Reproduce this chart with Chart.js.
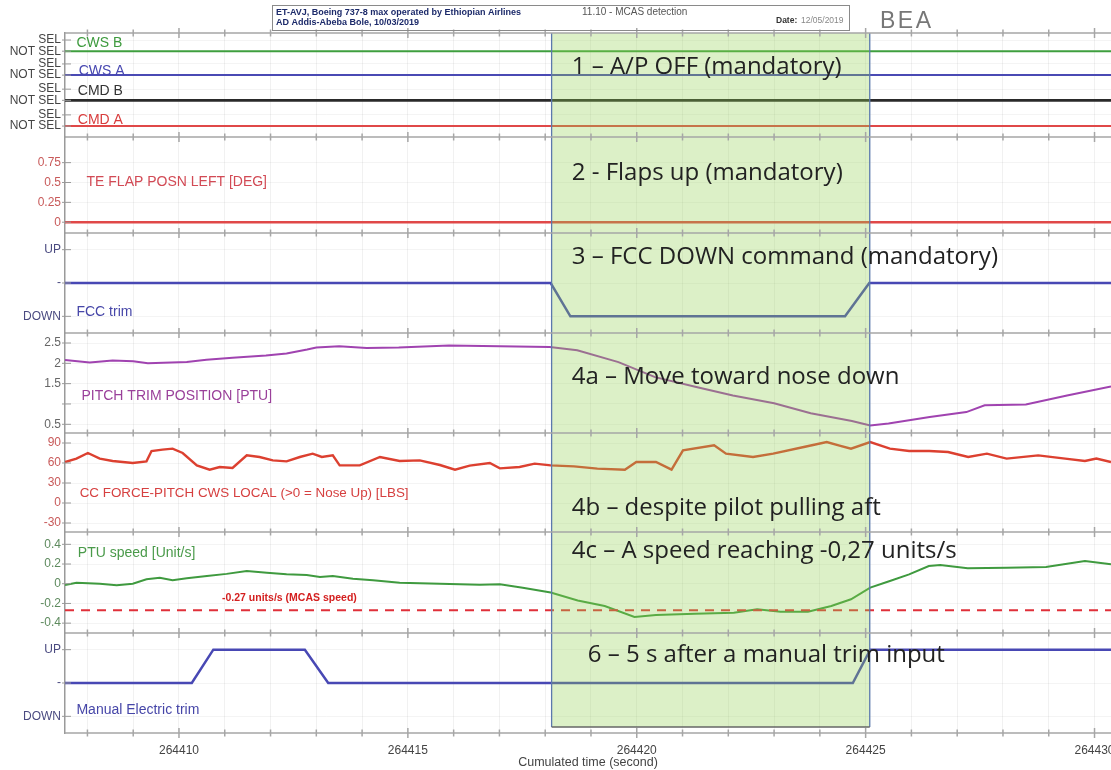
<!DOCTYPE html>
<html>
<head>
<meta charset="utf-8">
<title>MCAS detection</title>
<script src="https://cdn.jsdelivr.net/npm/chart.js@4.4.1/dist/chart.umd.min.js"></script>
<style>
  html, body { margin: 0; padding: 0; background: #fff; }
  canvas { display: block; }
</style>
</head>
<body>
<canvas id="mcas" width="1111" height="770"></canvas>
<script>
// time axis (cumulated seconds)
const timeRange = [264407.51, 264430.36];
const xTickLabels = [264410, 264415, 264420, 264425, 264430];
const mcasWindow = [264418.14, 264425.09];

// panel 1: autopilot channels, 0 = NOT SEL, 1 = SEL
const selSignals = ['CWS B', 'CWS A', 'CMD B', 'CMD A'];
const selTime = [264407.51, 264430.36];
const selState = [[0, 0], [0, 0], [0, 0], [0, 0]];
const selTickLabels = ['NOT SEL', 'SEL'];

// panel 2: TE flap position
const flapTime = [264407.51, 264430.36];
const flapValue = [0, 0];
const flapTicks = [0, 0.25, 0.5, 0.75];

// panel 3: FCC trim command (-1 DOWN, 0 none, 1 UP)
const fccTrimTime = [264407.51, 264418.12, 264418.55, 264424.55, 264425.08, 264430.36];
const fccTrimValue = [0, 0, -1, -1, 0, 0];
const trimTicks = [-1, 0, 1];
const trimTickLabels = ['DOWN', '-', 'UP'];

// panel 4: pitch trim position
const pitchTrimTime = [264407.51, 264408.05, 264408.55, 264409.0, 264409.32, 264410.17, 264410.6, 264411.17,
  264411.9, 264412.35, 264412.8, 264413.0, 264413.5, 264414.1, 264414.8, 264415.9, 264417.0, 264418.1,
  264418.7, 264419.6, 264420.4, 264421.3, 264422.1, 264423.0, 264423.8, 264424.7, 264425.1, 264425.5,
  264426.4, 264427.2, 264427.6, 264428.5, 264429.4, 264430.36];
const pitchTrimValue = [2.08, 2.02, 2.07, 2.05, 2.0, 2.03, 2.09, 2.14, 2.19, 2.24, 2.34, 2.39, 2.42, 2.38,
  2.39, 2.44, 2.42, 2.40, 2.32, 2.03, 1.66, 1.42, 1.21, 1.02, 0.77, 0.58, 0.47, 0.52, 0.68, 0.80, 0.97,
  0.99, 1.21, 1.43];
const pitchTicks = [0.5, 1, 1.5, 2, 2.5];
const pitchTickLabels = ['0.5', '', '1.5', '2', '2.5'];

// panel 5: column force
const ccForceTime = [264407.51, 264407.76, 264408.01, 264408.27, 264408.55, 264408.99, 264409.29, 264409.40,
  264409.64, 264409.86, 264410.08, 264410.39, 264410.67, 264410.89, 264411.17, 264411.48, 264411.76,
  264412.05, 264412.35, 264412.64, 264412.92, 264413.12, 264413.36, 264413.51, 264413.95, 264414.39,
  264414.82, 264415.26, 264415.70, 264416.03, 264416.35, 264416.79, 264417.01, 264417.44, 264417.77,
  264418.12, 264418.63, 264419.14, 264419.74, 264419.99, 264420.42, 264420.76, 264421.01, 264421.69,
  264421.95, 264422.54, 264422.98, 264423.65, 264424.15, 264424.41, 264424.68, 264425.10, 264425.53,
  264425.95, 264426.39, 264426.80, 264427.24, 264427.65, 264428.08, 264428.77, 264429.36, 264429.79,
  264430.04, 264430.36];
const ccForceValue = [61.5, 66.6, 75, 66.6, 63, 60, 62.5, 78, 80, 81.5, 75, 56.5, 50, 54, 52.5, 71.5, 69,
  64, 62.5, 69, 74, 69, 71.5, 56.5, 56.5, 69, 63, 64, 57, 50, 56, 60, 52, 54, 59, 56.5, 55, 51.5, 50, 61.5,
  61.5, 50, 79, 86.5, 74, 69, 74, 84, 91.5, 86.5, 81.5, 91.5, 81.5, 78, 78, 76.5, 69, 74, 66.6, 71.5, 66.6,
  63, 66.6, 61.5];
const forceTicks = [-30, 0, 30, 60, 90];

// panel 6: PTU speed
const ptuSpeedTime = [264407.51, 264407.76, 264408.27, 264408.64, 264408.99, 264409.29, 264409.58, 264409.86,
  264410.17, 264410.61, 264411.04, 264411.48, 264411.92, 264412.35, 264412.79, 264413.08, 264413.36,
  264413.80, 264414.24, 264414.82, 264415.70, 264416.57, 264417.01, 264417.51, 264418.12, 264418.71,
  264419.30, 264419.95, 264420.42, 264421.27, 264422.12, 264422.63, 264423.14, 264423.74, 264424.25,
  264424.68, 264425.10, 264425.53, 264425.95, 264426.38, 264426.63, 264427.23, 264428.08, 264428.94,
  264429.79, 264430.36];
const ptuSpeedValue = [-0.013, 0.01, 0, -0.016, 0, 0.045, 0.06, 0.035, 0.055, 0.078, 0.10, 0.129, 0.112,
  0.095, 0.088, 0.068, 0.078, 0.051, 0.035, 0.01, 0.0, -0.01, -0.006, -0.04, -0.09, -0.17, -0.226, -0.338,
  -0.318, -0.305, -0.294, -0.26, -0.284, -0.284, -0.226, -0.158, -0.04, 0.027, 0.095, 0.18, 0.19, 0.156,
  0.162, 0.17, 0.23, 0.197];
const mcasSpeed = -0.27;
const speedTicks = [-0.4, -0.2, 0, 0.2, 0.4];

// panel 7: manual electric trim (-1 DOWN, 0 none, 1 UP)
const manualTrimTime = [264407.51, 264410.28, 264410.75, 264412.75, 264413.26, 264424.72, 264425.1, 264430.36];
const manualTrimValue = [0, 0, 1, 1, 0, 0, 1, 1];

// ---- layout / style ----
const FONT = "'Liberation Sans', Arial, sans-serif";
const selLane = [3.30, 2.38, 1.41, 0.42];   // NOT SEL level of each channel on panel 1
const selStep = 0.43;
const selColors = ['#3f9f3f', '#4a4ab4', '#2a2a2a', '#e04848'];

const pts = (ts, vs, f = v => v) => ts.map((t, i) => ({x: t, y: f(vs[i])}));

const datasets = [];
selSignals.forEach((name, i) => {
  datasets.push({label: name, yAxisID: 'y1', data: pts(selTime, selState[i], s => selLane[i] + s * selStep),
    borderColor: selColors[i], borderWidth: i === 2 ? 2.6 : 2});
});
datasets.push({label: 'TE FLAP', yAxisID: 'y2', data: pts(flapTime, flapValue), borderColor: '#e04848', borderWidth: 2.5});
datasets.push({label: 'FCC trim', yAxisID: 'y3', data: pts(fccTrimTime, fccTrimValue), borderColor: '#4848b4', borderWidth: 2.5});
datasets.push({label: 'Pitch trim', yAxisID: 'y4', data: pts(pitchTrimTime, pitchTrimValue), borderColor: '#a043b0', borderWidth: 2});
datasets.push({label: 'CC force', yAxisID: 'y5', data: pts(ccForceTime, ccForceValue), borderColor: '#dc4030', borderWidth: 2.4});
datasets.push({label: 'MCAS speed', yAxisID: 'y6', data: pts(timeRange, [mcasSpeed, mcasSpeed]), borderColor: '#e0303a', borderWidth: 2, borderDash: [9, 7]});
datasets.push({label: 'PTU speed', yAxisID: 'y6', data: pts(ptuSpeedTime, ptuSpeedValue), borderColor: '#3f9a3f', borderWidth: 2});
datasets.push({label: 'Manual trim', yAxisID: 'y7', data: pts(manualTrimTime, manualTrimValue), borderColor: '#4848b4', borderWidth: 2.5});

function panel(min, max, height, order, ticks, labels, color) {
  return {
    type: 'linear', position: 'left', stack: 'panels', stackWeight: height, weight: order,
    min: min, max: max,
    afterBuildTicks: s => { s.ticks = ticks.map(v => ({value: v})); },
    afterFit: s => { s.width = 65; },
    grid: {color: 'rgba(0,0,0,0.045)', drawTicks: false},
    border: {color: '#9a9a9a', width: 1.5},
    ticks: {padding: 4, color: color, autoSkip: false, font: {family: FONT, size: 12},
      callback: (v, i) => labels ? labels[i] : String(v)}
  };
}

const p1Ticks = [];
const p1Labels = [];
selLane.slice().reverse().forEach(l => { p1Ticks.push(l, l + selStep); p1Labels.push(...selTickLabels); });

const panelIds = ['y1', 'y2', 'y3', 'y4', 'y5', 'y6', 'y7'];

const seriesLabels = [
  {text: 'CWS B', color: '#3d9a3d', axis: 'y1', x: 264407.76, y: 3.62},
  {text: 'CWS A', color: '#4646b0', axis: 'y1', x: 264407.81, y: 2.55},
  {text: 'CMD B', color: '#333333', axis: 'y1', x: 264407.79, y: 1.78},
  {text: 'CMD A', color: '#d83c3c', axis: 'y1', x: 264407.79, y: 0.65},
  {text: 'TE FLAP POSN LEFT [DEG]', color: '#d24a55', axis: 'y2', x: 264407.98, y: 0.505},
  {text: 'FCC trim', color: '#4646a8', axis: 'y3', x: 264407.76, y: -0.86},
  {text: 'PITCH TRIM POSITION [PTU]', color: '#9a409a', axis: 'y4', x: 264407.87, y: 1.20},
  {text: 'CC FORCE-PITCH CWS LOCAL (>0 = Nose Up) [LBS]', color: '#d64040', axis: 'y5', x: 264407.83, y: 14, font: '13.4px ' + FONT},
  {text: 'PTU speed [Unit/s]', color: '#4a9a4a', axis: 'y6', x: 264407.79, y: 0.315},
  {text: '-0.27 units/s (MCAS speed)', color: '#d42020', axis: 'y6', x: 264410.94, y: -0.142, font: 'bold 10.5px ' + FONT},
  {text: 'Manual Electric trim', color: '#4646a8', axis: 'y7', x: 264407.76, y: -0.80}
];

const notes = [
  {text: '1 – A/P OFF (mandatory)', axis: 'y1', x: 264418.58, y: 2.70},
  {text: '2 - Flaps up (mandatory)', axis: 'y2', x: 264418.58, y: 0.62},
  {text: '3 – FCC DOWN command (mandatory)', axis: 'y3', x: 264418.58, y: 0.78},
  {text: '4a – Move toward nose down', axis: 'y4', x: 264418.58, y: 1.66},
  {text: '4b – despite pilot pulling aft', axis: 'y5', x: 264418.58, y: -8},
  {text: '4c – A speed reaching -0,27 units/s', axis: 'y6', x: 264418.58, y: 0.33},
  {text: '6 – 5 s after a manual trim input', axis: 'y7', x: 264418.93, y: 0.84}
];

const overlay = {
  id: 'overlay',
  afterDatasetsDraw(chart) {
    const {ctx, chartArea: a, scales} = chart;
    const x = scales.x;
    ctx.save();

    // MCAS window
    const x0 = x.getPixelForValue(mcasWindow[0]);
    const x1 = x.getPixelForValue(mcasWindow[1]);
    const yb = a.bottom - 6;
    ctx.fillStyle = 'rgba(146,208,80,0.32)';
    ctx.fillRect(x0, a.top, x1 - x0, yb - a.top);
    ctx.lineWidth = 1.3;
    ctx.strokeStyle = '#5b78ad';
    ctx.beginPath();
    ctx.moveTo(x0, a.top); ctx.lineTo(x0, yb);
    ctx.moveTo(x1, a.top); ctx.lineTo(x1, yb);
    ctx.stroke();
    ctx.strokeStyle = '#666';
    ctx.beginPath(); ctx.moveTo(x0, yb); ctx.lineTo(x1, yb); ctx.stroke();

    // panel separators with time ticks
    const edges = [a.top].concat(panelIds.map(id => scales[id].bottom));
    ctx.strokeStyle = '#a6a6a6';
    ctx.lineWidth = 1.5;
    edges.forEach(y => {
      ctx.beginPath(); ctx.moveTo(a.left, y); ctx.lineTo(a.right, y); ctx.stroke();
      x.ticks.forEach(t => {
        const px = x.getPixelForValue(t.value);
        const h = t.value % 5 === 0 ? 5 : 3.5;
        ctx.beginPath(); ctx.moveTo(px, y - h); ctx.lineTo(px, y + h); ctx.stroke();
      });
    });
    // small y tick marks
    ctx.lineWidth = 1;
    ctx.strokeStyle = '#999';
    panelIds.forEach(id => {
      const s = scales[id];
      s.ticks.forEach(t => {
        const py = s.getPixelForValue(t.value);
        ctx.beginPath(); ctx.moveTo(a.left - 3, py); ctx.lineTo(a.left + 6, py); ctx.stroke();
      });
    });

    // series names
    ctx.textBaseline = 'middle';
    ctx.textAlign = 'left';
    seriesLabels.forEach(l => {
      ctx.font = l.font || '14px ' + FONT;
      ctx.fillStyle = l.color;
      ctx.fillText(l.text, x.getPixelForValue(l.x), scales[l.axis].getPixelForValue(l.y));
    });

    // big comments
    ctx.font = "24px 'Open Sans', 'Noto Sans', sans-serif";
    ctx.fillStyle = '#222';
    notes.forEach(n => {
      ctx.fillText(n.text, x.getPixelForValue(n.x), scales[n.axis].getPixelForValue(n.y));
    });
    ctx.restore();
  },
  afterDraw(chart) {
    const ctx = chart.ctx;
    ctx.save();
    // header block
    ctx.strokeStyle = '#8a8a8a';
    ctx.lineWidth = 1;
    ctx.strokeRect(272.5, 5.5, 577, 25);
    ctx.textBaseline = 'middle';
    ctx.textAlign = 'left';
    ctx.fillStyle = '#1c2a6a';
    ctx.font = 'bold 9px ' + FONT;
    ctx.fillText('ET-AVJ, Boeing 737-8 max operated by Ethiopian Airlines', 276, 13);
    ctx.fillText('AD Addis-Abeba Bole, 10/03/2019', 276, 23);
    ctx.fillStyle = '#555';
    ctx.font = '10px ' + FONT;
    ctx.fillText('11.10 - MCAS detection', 582, 12);
    ctx.fillStyle = '#333';
    ctx.font = 'bold 8.5px ' + FONT;
    ctx.fillText('Date:', 776, 21);
    ctx.fillStyle = '#888';
    ctx.font = '8.5px ' + FONT;
    ctx.fillText('12/05/2019', 801, 21);
    ctx.fillStyle = '#777';
    ctx.font = '23px ' + FONT;
    ctx.letterSpacing = '2.5px';
    ctx.fillText('BEA', 880, 22);
    ctx.restore();
  }
};

const scales = {
  x: {
    type: 'linear', position: 'bottom', min: timeRange[0], max: timeRange[1],
    afterBuildTicks: s => {
      const out = [];
      for (let t = Math.ceil(s.min); t <= s.max; t++) out.push({value: t});
      s.ticks = out;
    },
    afterFit: s => { s.height = 37; s.paddingLeft = 0; s.paddingRight = 0; },
    grid: {color: 'rgba(0,0,0,0.055)', drawTicks: false},
    border: {display: false},
    ticks: {autoSkip: false, maxRotation: 0, padding: 10, color: '#444', font: {family: FONT, size: 12},
      callback: v => xTickLabels.includes(v) ? String(v) : ''},
    title: {display: true, text: 'Cumulated time (second)', color: '#444',
      font: {family: FONT, size: 12.5, lineHeight: 1}, padding: {top: 0, bottom: 1.5}}
  },
  y1: panel(0, 4, 104, 7, p1Ticks, p1Labels, '#444'),
  y2: panel(-0.136, 1.073, 96, 6, flapTicks, null, '#c85a5a'),
  y3: panel(-1.5, 1.5, 100, 5, trimTicks, trimTickLabels, '#4a4a80'),
  y4: panel(0.286, 2.746, 100, 4, pitchTicks, pitchTickLabels, '#666'),
  y5: panel(-43.5, 105, 99, 3, forceTicks, null, '#c85a5a'),
  y6: panel(-0.50, 0.525, 101, 2, speedTicks, null, '#5e8a5e'),
  y7: panel(-1.5, 1.5, 100, 1, trimTicks, trimTickLabels, '#4a4a80')
};

new Chart(document.getElementById('mcas').getContext('2d'), {
  type: 'line',
  data: {datasets: datasets},
  options: {
    responsive: false,
    animation: false,
    devicePixelRatio: 1,
    layout: {padding: {top: 33, left: 0, right: 0, bottom: 0}},
    elements: {point: {radius: 0}, line: {tension: 0}},
    plugins: {legend: {display: false}, tooltip: {enabled: false}},
    scales: scales
  },
  plugins: [overlay]
});
</script>
</body>
</html>
